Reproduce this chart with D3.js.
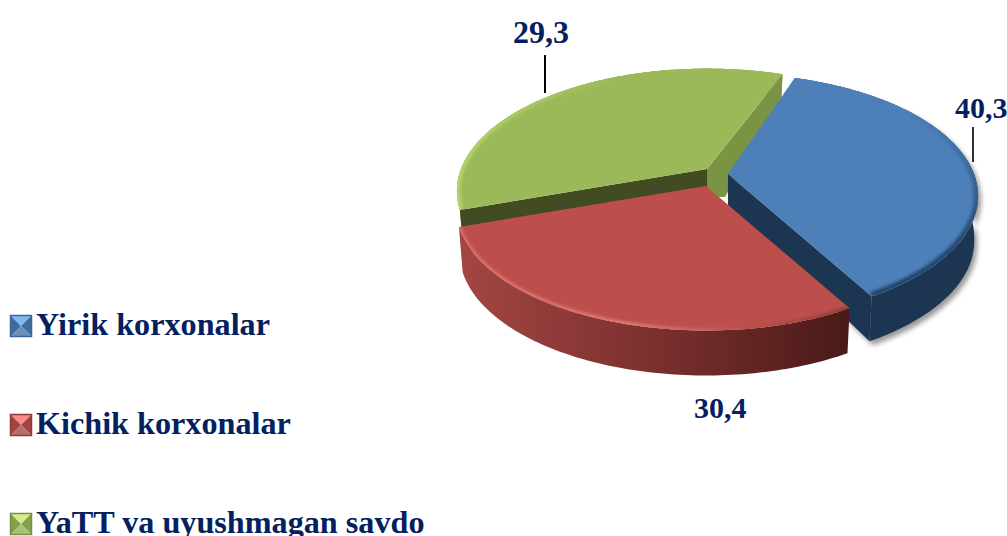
<!DOCTYPE html>
<html><head><meta charset="utf-8">
<script src="https://cdn.jsdelivr.net/npm/d3@7/dist/d3.min.js"></script>
<style>html,body{margin:0;padding:0;background:#fff;overflow:hidden}svg{display:block}
text{font-family:"Liberation Serif",serif;font-weight:bold;fill:#04205f}</style>
</head><body><svg id="c" width="1007" height="536"></svg>
<script>
// ---- data
const categories = ["Yirik korxonalar", "Kichik korxonalar", "YaTT va uyushmagan savdo"];
const values = [40.3, 30.4, 29.3];
const valueLabels = ["40,3", "30,4", "29,3"];

// ---- 3-D view of the pie
const viewAngles = [-71.5, 60.5, 161, 291];   // where the slice boundaries land in the tilted view (deg)
const view = {R: 246, K: 118.5, p: 0.18};
const apexes = [[728, 174], [706, 186], [707, 169]];
const palette = [
  {top:"#4d7fb9", wall:"#1f3551", bevel:"url(#bevel0)", bw:9, sw:["#7fb9f7","#3f6b9e","#6b8fb8","#3c6496"]},
  {top:"#bc4e4b", wall:"url(#redWall)", bevel:"url(#bevel1)", bw:5, sw:["#f98a84","#a04341","#b96e6b","#8e3a38"]},
  {top:"#9bb958", wall:"#8aa64e", bevel:"url(#bevel2)", bw:7, sw:["#d6ee8c","#84a04a","#a9c07a","#76913f"]}
];
// visible cut faces: which rim end, colour, and the points where the face meets the neighbouring slice
const faces = [
  [{end:"last", fill:"#1f3551", foot:[[0,31]]}],
  [],
  [{end:"first", fill:"#434b22", foot:[[0,28]]},
   {end:"last", fill:"#7a9444", foot:[[18,28],[0,28]]}]
];

const svg = d3.select("#c");
const defs = svg.append("defs");
function grad(id, x1, y1, x2, y2, stops){
  const g = defs.append("linearGradient").attr("id",id).attr("gradientUnits","userSpaceOnUse")
    .attr("x1",x1).attr("y1",y1).attr("x2",x2).attr("y2",y2);
  stops.forEach(s=>g.append("stop").attr("offset",s[0]).attr("stop-color",s[1]));
}
grad("redWall",458,0,847,0,[[0,"#a34644"],[0.5,"#7c302e"],[1,"#4a1a18"]]);
grad("bevel0",0,110,0,250,[[0,"#4d7fb9"],[1,"#24476f"]]);
grad("bevel1",458,0,847,0,[[0,"#dd6f6a"],[0.45,"#e07a74"],[0.75,"#bc4e4b"],[1,"#8a3a38"]]);
grad("bevel2",456,0,620,0,[[0,"#b4d56a"],[1,"#9bb958"]]);
defs.append("filter").attr("id","blur").attr("x","-20%").attr("y","-20%").attr("width","140%").attr("height","140%")
  .append("feGaussianBlur").attr("stdDeviation",1.8);
defs.append("filter").attr("id","shadow").attr("x","-10%").attr("y","-10%").attr("width","125%").attr("height","125%")
  .append("feDropShadow").attr("dx",3).attr("dy",4).attr("stdDeviation",2.5).attr("flood-color","#000").attr("flood-opacity",0.4);

const arcs = d3.pie().sort(null).startAngle(0).endAngle(2*Math.PI)(values);
const warp = d3.scaleLinear()
  .domain([arcs[0].startAngle, arcs[0].endAngle, arcs[1].endAngle, arcs[2].endAngle])
  .range(viewAngles.map(d => d*Math.PI/180));
const thick = d3.scaleLinear().domain([-1,0.3]).range([24,45]).clamp(true);
const line = d3.line();

function rimPoints(d, i){
  const [ax,ay] = apexes[i], a0 = warp(d.startAngle), a1 = warp(d.endAngle), n = 90;
  return d3.range(n+1).map(k=>{
    const a = a0+(a1-a0)*k/n, u = Math.cos(a), v = Math.sin(a), f = 1/(1-view.p*v);
    const x = ax+view.R*u*f, y = ay+view.K*v*f;
    return {x, y, lx:x-(x-ax)*0.015, ly:y+thick(v)};
  });
}
function draw(i){
  const c = palette[i], pts = rimPoints(arcs[i],i), apex = apexes[i];
  const g = svg.append("g");
  const top = pts.map(p=>[p.x,p.y]);
  const low = pts.map(p=>[p.lx,p.ly]).reverse();
  const ends = {first:pts[0], last:pts[pts.length-1]};
  const walls = g.append("g").attr("filter", i===0 ? "url(#shadow)" : null);
  walls.append("path").attr("d",line(top.concat(low))+"Z").attr("fill",c.wall);
  faces[i].forEach(f=>{
    const e = ends[f.end];
    const foot = f.foot.map(o=>[apex[0]+o[0],apex[1]+o[1]]);
    walls.append("path").attr("fill",f.fill)
      .attr("d",line([apex,[e.x,e.y],[e.lx,e.ly]].concat(foot))+"Z");
  });
  const topD = line([apex].concat(top))+"Z";
  g.append("path").attr("d",topD).attr("fill",c.top);
  defs.append("clipPath").attr("id","clip"+i).append("path").attr("d",topD);
  g.append("g").attr("clip-path",`url(#clip${i})`)
    .append("path").attr("d",line(top)).attr("fill","none").attr("stroke",c.bevel)
    .attr("stroke-width",c.bw).attr("filter","url(#blur)");
}
[2,0,1].forEach(draw);

// leader lines and value labels
const leaders = [[973,127,973,162,1.6],[545,55,545,93,2]];
svg.selectAll("line.l").data(leaders).join("line").attr("x1",d=>d[0]).attr("y1",d=>d[1])
  .attr("x2",d=>d[2]).attr("y2",d=>d[3]).attr("stroke","#000").attr("stroke-width",d=>d[4]);
const labelPos = [[955,118],[694,418],[513,43]];
svg.selectAll("text.v").data(valueLabels).join("text").attr("class","v")
  .attr("x",(d,i)=>labelPos[i][0]).attr("y",(d,i)=>labelPos[i][1])
  .attr("font-size",(d,i)=>i===2?32:30).text(d=>d);

// legend
const rowY = d3.scalePoint().domain(categories).range([335,533]);
const legend = svg.selectAll("g.leg").data(categories).join("g").attr("class","leg")
  .attr("transform",d=>`translate(0,${rowY(d)})`);
legend.append("text").attr("x",36).attr("y",0).attr("font-size",32.2).text(d=>d);
const s = {x0:10,x1:32,y0:-20,y1:2,cx:21,cy:-9};
legend.each(function(d,i){
  const g = d3.select(this), c = palette[i].sw;
  const tri = [[[s.x0,s.y0],[s.x1,s.y0],[s.cx,s.cy]],[[s.x1,s.y0],[s.x1,s.y1],[s.cx,s.cy]],
               [[s.x1,s.y1],[s.x0,s.y1],[s.cx,s.cy]],[[s.x0,s.y1],[s.x0,s.y0],[s.cx,s.cy]]];
  const fill = [c[0],c[1],c[2],c[1]];
  tri.forEach((t,k)=>g.append("path").attr("d",line(t)+"Z").attr("fill",fill[k]));
  g.append("rect").attr("x",s.x0+.5).attr("y",s.y0+.5).attr("width",s.x1-s.x0-1).attr("height",s.y1-s.y0-1)
    .attr("fill","none").attr("stroke",c[3]).attr("stroke-width",1.5);
});
</script></body></html>
